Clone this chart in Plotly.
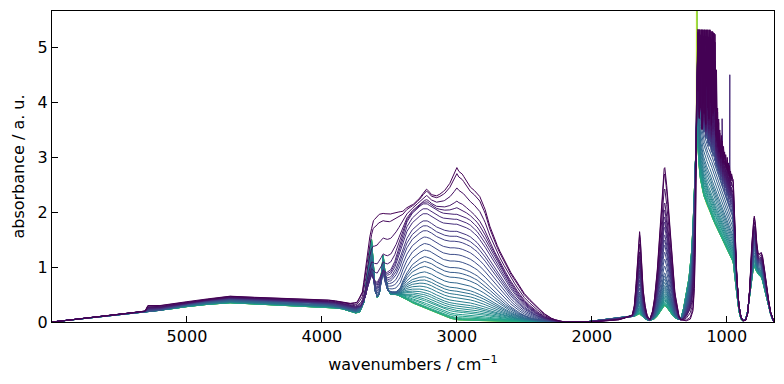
import numpy as np
import plotly.graph_objects as go
from plotly.colors import sample_colorscale

# ---------------- read-off profiles (wavenumber, absorbance) ----------------
# saturated / noisy window of the strongest spectrum (1213 ... 1087 cm-1, 3 cm-1 steps)
sat_wn = list(range(1213, 1086, -3))
sat_high = [5.33,4.2,5.33,3.7,5.33,5.1,3.9,5.33,4.6,5.33,3.5,5.33,5.0,4.0,5.33,3.8,5.33,4.8,5.33,3.6,5.2,
            5.33,4.3,5.33,3.9,5.33,5.1,3.7,5.33,4.5,5.33,4.0,5.3,3.6,5.3,4.9,5.3,3.8,5.28,4.4,5.27,3.9,5.25]
# noisy tail of the strongest spectrum (1084 ... 956 cm-1, 4 cm-1 steps)
tail_wn = list(range(1084, 955, -4))
tail_high = [4.2,3.4,4.6,3.3,3.9,3.2,3.7,3.1,3.5,3.3,3.0,3.4,3.1,3.3,2.9,3.2,3.0,3.1,2.85,3.05,2.9,2.8,3.0,
             2.75,2.9,2.7,2.85,2.65,2.75,2.6,2.7,2.6,2.6]

# darkest / last spectrum
high_wn = ([6000,5700,5400,5310,5290,5200,5100,5000,4850,4680,4500,4300,4100,3950,3850,3790,3740,3700,3680,3650,
            3620,3580,3550,3500,3460,3400,3373,3320,3274,3245,3225,3205,3188,3150,3126,3090,3052,3020,3000,2985,
            2960,2930,2904,2870,2830,2790,2756,2720,2681,2640,2607,2570,2533,2500,2459,2420,2385,2350,2311,2270,
            2237,2200,2000,1900,1800,1760,1720,1700,1685,1672,1660,1650,1646,1640,1630,1620,1605,1590,1575,1570,
            1550,1535,1515,1498,1485,1473,1464,1459,1452,1435,1422,1410,1398,1385,1370,1355,1340,1300,1270,1250,
            1240,1232,1226,1220,1216] + sat_wn + tail_wn +
           [952,945,935,925,910,895,880,860,845,830,815,805,796,788,778,768,755,745,735,720,705,690,675,660,650])
high_abs = ([0,0.08,0.17,0.2,0.3,0.30,0.33,0.37,0.42,0.47,0.45,0.43,0.42,0.40,0.37,0.34,0.36,0.55,0.9,1.5,
             1.85,1.97,1.99,1.97,2.0,2.02,2.08,2.15,2.26,2.36,2.42,2.38,2.32,2.30,2.33,2.40,2.53,2.70,2.82,2.75,
             2.70,2.58,2.47,2.40,2.29,2.05,1.75,1.50,1.29,1.10,0.93,0.79,0.65,0.52,0.41,0.31,0.23,0.15,0.08,0.04,
             0.02,0.0,0.0,0.02,0.04,0.07,0.1,0.13,0.3,0.7,1.25,1.6,1.65,1.5,1.0,0.6,0.3,0.12,0.06,0.05,
             0.2,0.44,0.95,1.6,2.15,2.62,2.8,2.82,2.7,2.2,1.75,1.29,0.9,0.56,0.3,0.12,0.04,0.02,0.05,0.2,
             0.6,1.5,3.5,5.0,5.33] + sat_high + tail_high +
            [2.6,2.2,1.4,0.8,0.3,0.08,0.02,0.03,0.15,0.6,1.4,1.8,1.93,1.8,1.45,1.25,1.24,1.27,1.2,0.95,0.65,0.4,0.18,0.04,0.0])

# spectrum with about 1.96 at 3000 cm-1 (OH / CH stretching window only)
upper_wn = [3900,3850,3750,3710,3680,3660,3632,3610,3590,3570,3546,3520,3490,3460,3430,3400,3370,3330,3290,3250,
            3220,3190,3150,3100,3050,3000,2950,2900,2850,2800,2750,2700,2650,2600,2550,2500,2450,2400,2350,2300,
            2250,2200]
upper_abs = [0.35,0.32,0.27,0.3,0.45,0.65,0.85,0.75,0.72,0.8,0.95,0.9,0.95,1.1,1.35,1.6,1.82,1.98,2.08,2.15,
             2.15,2.1,2.03,1.98,1.96,1.96,1.92,1.85,1.73,1.55,1.33,1.1,0.88,0.68,0.5,0.35,0.24,0.15,0.08,0.04,
             0.01,0.0]

# intermediate spectrum (about 1.0 at 3000 cm-1)
mid_wn = [6000,5700,5400,5300,5200,5000,4850,4680,4500,4300,4100,3950,3850,3790,3750,3710,3680,3660,3645,3632,
          3618,3605,3590,3575,3560,3546,3530,3510,3480,3450,3420,3400,3370,3330,3280,3240,3200,3150,3100,3050,
          3000,2950,2900,2850,2800,2750,2700,2650,2600,2550,2500,2450,2400,2300,2200,2050,1950,1850,1760,1720,
          1700,1685,1672,1660,1650,1646,1640,1630,1620,1605,1590,1575,1570,1550,1535,1515,1498,1485,1473,1464,
          1459,1452,1435,1422,1410,1398,1385,1370,1355,1340,1320,1300,1280,1260,1245,1235,1228,1222,1215,1208,
          1200,1190,1180,1170,1160,1150,1140,1120,1100,1080,1060,1040,1020,1000,980,960,950,940,925,910,
          895,880,860,845,830,815,805,796,788,778,768,755,745,735,720,705,690,675,660,650]
mid_abs = [0,0.08,0.17,0.19,0.22,0.32,0.37,0.41,0.39,0.37,0.35,0.32,0.28,0.24,0.22,0.27,0.45,0.7,0.9,1.0,
           0.8,0.55,0.47,0.52,0.75,0.9,0.7,0.57,0.55,0.55,0.62,0.75,0.9,1.05,1.15,1.2,1.18,1.1,1.03,1.0,
           1.0,0.97,0.92,0.85,0.75,0.63,0.5,0.38,0.28,0.19,0.12,0.07,0.04,0.01,0,0,0.03,0.05,0.08,0.1,
           0.1,0.14,0.25,0.42,0.53,0.55,0.5,0.34,0.2,0.1,0.05,0.03,0.03,0.07,0.14,0.3,0.51,0.69,0.84,0.89,
           0.9,0.86,0.7,0.56,0.41,0.29,0.18,0.1,0.05,0.04,0.1,0.25,0.45,0.8,1.6,2.6,3.6,4.3,4.5,4.2,
           3.9,3.7,3.55,3.45,3.35,3.3,3.2,3.1,2.95,2.8,2.65,2.5,2.35,2.2,2.05,1.95,1.8,1.3,0.75,0.3,
           0.1,0.03,0.04,0.18,0.55,1.05,1.3,1.38,1.33,1.15,1.05,1.02,1.02,0.95,0.75,0.52,0.33,0.16,0.04,0]

# lowest / first spectrum
low_wn = [6000,5700,5400,5300,5200,5000,4850,4680,4500,4300,4100,3950,3850,3800,3760,3720,3690,3665,3645,3632,
          3620,3605,3590,3575,3560,3546,3532,3515,3490,3450,3420,3380,3330,3280,3250,3200,3150,3100,3050,3000,
          2900,2800,2600,2400,2200,2050,1950,1850,1760,1720,1690,1672,1660,1648,1635,1620,1600,1580,1570,1535,
          1515,1498,1480,1465,1459,1445,1425,1410,1395,1380,1360,1340,1320,1300,1280,1260,1245,1235,1228,1222,
          1215,1205,1195,1185,1170,1150,1120,1100,1080,1050,1020,1000,980,960,950,940,925,910,895,880,
          860,845,830,815,800,790,775,760,745,735,720,705,690,675,660,650]
low_abs = [0,0.08,0.16,0.18,0.21,0.28,0.32,0.35,0.33,0.31,0.29,0.27,0.24,0.2,0.16,0.18,0.35,0.8,1.3,1.5,
           1.1,0.6,0.45,0.5,0.85,1.22,0.9,0.6,0.5,0.5,0.47,0.42,0.35,0.3,0.26,0.21,0.16,0.11,0.07,0.04,
           0.03,0.02,0.01,0.005,0,0,0.03,0.06,0.09,0.1,0.1,0.12,0.14,0.15,0.12,0.08,0.05,0.03,0.03,0.06,
           0.11,0.18,0.25,0.29,0.3,0.27,0.2,0.14,0.1,0.07,0.05,0.06,0.25,0.5,0.8,1.3,2.0,2.7,3.2,3.5,
           3.3,2.8,2.6,2.45,2.3,2.15,2.0,1.85,1.75,1.6,1.45,1.35,1.25,1.15,1.05,0.8,0.5,0.2,0.05,0.02,
           0.05,0.2,0.5,0.85,1.0,0.98,0.9,0.85,0.82,0.75,0.6,0.42,0.28,0.14,0.04,0]

# band height at 3000 cm-1 of every spectrum, in recording order
heights_3000 = [0.04,0.04,0.04,0.045,0.05,0.065,0.08,0.11,0.14,0.18,0.21,0.25,0.29,0.33,0.38,0.44,0.50,0.56,
                0.62,0.71,0.81,0.90,0.99,1.11,1.23,1.35,1.47,1.56,1.65,1.78,1.87,1.96,2.08,2.20,2.44,2.70,2.81]

# isolated detector spikes: spectrum index, wavenumber, absorbance
spike_index = [0, 1, 31, 30]
spike_wn = [1224, 1219, 1034, 978]
spike_abs = [6.5, 6.3, 3.7, 4.5]

x_ticks = [5000, 4000, 3000, 2000, 1000]
y_ticks = [0, 1, 2, 3, 4, 5]

# ---------------- spectra on a shared grid ----------------
extra = []
for w in spike_wn:
    extra += [w - 2.0, w - 0.5, w + 0.5, w + 2.0]
grid = np.unique(np.concatenate([high_wn, mid_wn, low_wn, upper_wn, extra]))[::-1]
H = np.interp(grid, high_wn[::-1], high_abs[::-1])
M = np.interp(grid, mid_wn[::-1], mid_abs[::-1])
L = np.interp(grid, low_wn[::-1], low_abs[::-1])
hL, hM, hU, hH = 0.04, 1.0, 1.96, 2.82
tU = (hU - hM) / (hH - hM)
U = M + tU * (H - M)
inside = (grid <= upper_wn[0]) & (grid >= upper_wn[-1])
U[inside] = np.interp(grid[inside], upper_wn[::-1], upper_abs[::-1])

N = len(heights_3000)
vals = [0.92, 0.82] + list(np.linspace(0.66, 0.0, N - 2))
colors = sample_colorscale('Viridis', vals)

fig = go.Figure()
for i, h in enumerate(heights_3000):
    if h <= hM:
        t = (h - hL) / (hM - hL)
        y = L + t * (M - L)
    elif h <= hU:
        t = (h - hM) / (hU - hM)
        y = M + t * (U - M)
    else:
        t = (h - hU) / (hH - hU)
        y = U + t * (H - U)
    y = np.maximum(y, 0)
    for si, sw, sa in zip(spike_index, spike_wn, spike_abs):
        if si == i:
            y[np.abs(grid - sw) <= 0.6] = sa
    fig.add_trace(go.Scatter(x=grid, y=y, mode='lines',
                             line=dict(color=colors[i], width=1),
                             showlegend=False, hoverinfo='skip'))

font = dict(family='DejaVu Sans', size=16, color='black')
axis_common = dict(ticks='inside', ticklen=6, tickcolor='black', showline=True, mirror=True,
                   linecolor='black', linewidth=1, showgrid=False, zeroline=False, automargin=False,
                   tickfont=font)
fig.update_layout(
    width=784, height=384,
    margin=dict(l=52, r=10, t=11, b=62),
    paper_bgcolor='white', plot_bgcolor='white',
    font=font,
    xaxis=dict(range=[6000, 650], tickvals=x_ticks,
               title=dict(text='wavenumbers / cm<sup>−1</sup>', font=font, standoff=13), **axis_common),
    yaxis=dict(range=[0, 5.66], tickvals=y_ticks,
               title=dict(text='absorbance / a. u.', font=font, standoff=9), **axis_common),
)
fig.write_html('out.html', config={'displayModeBar': False, 'staticPlot': True})

# remove the browser's default page margin so the 784x384 figure fills the window
with open('out.html', encoding='utf-8') as f:
    page = f.read()
page = page.replace('<head>', '<head><style>html,body{margin:0;padding:0;overflow:hidden;}</style>', 1)
with open('out.html', 'w', encoding='utf-8') as f:
    f.write(page)
